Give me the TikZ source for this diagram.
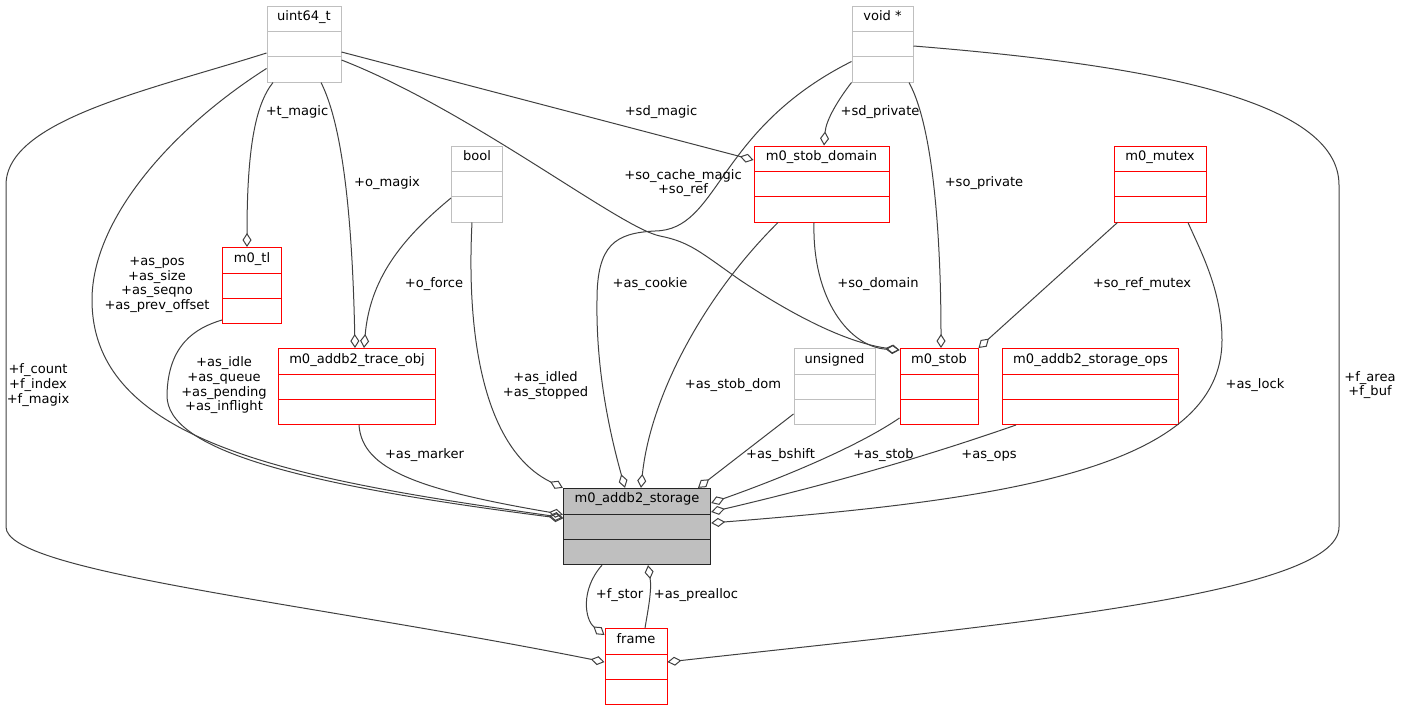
\documentclass[tikz,border=0pt]{standalone}
\usepackage{fontspec}
\setmainfont{DejaVu Sans}
\usetikzlibrary{calc,arrows.meta}
\definecolor{edgec}{HTML}{404040}
\definecolor{boxred}{HTML}{FF0000}
\definecolor{boxgray}{HTML}{BFBFBF}
\begin{document}
\begin{tikzpicture}[x=0.75pt,y=-0.75pt,
  font=\fontsize{9.8pt}{11pt}\selectfont,
  cls/.style={draw=#1, line width=0.75pt, inner sep=0pt, minimum height=57pt,
    path picture={\draw[#1, line width=0.75pt]
      ($(path picture bounding box.north west)!0.34!(path picture bounding box.south west)$) --
      ($(path picture bounding box.north east)!0.34!(path picture bounding box.south east)$)
      ($(path picture bounding box.north west)!0.67!(path picture bounding box.south west)$) --
      ($(path picture bounding box.north east)!0.67!(path picture bounding box.south east)$);}},
  redcls/.style={cls=boxred},
  graycls/.style={cls=boxgray},
  ttl/.style={anchor=base, inner sep=0pt},
  lbl/.style={align=center, inner sep=0pt},
  agg/.style={draw=edgec, line width=0.75pt, {Diamond[open,length=10.5pt,width=6.75pt]}-},
]
\path[use as bounding box] (0,0) rectangle (1403,711);

% classes
\node[graycls, minimum width=55.5pt] (uint) at (304,44) {};
\node[ttl] (uint-t) at ($(uint.north)+(0,15)$) {uint64\_t};
\node[graycls, minimum width=45.75pt] (void) at (882.5,44) {};
\node[ttl] (void-t) at ($(void.north)+(0,15)$) {void *};
\node[graycls, minimum width=38.25pt] (bool) at (477,184) {};
\node[ttl] (bool-t) at ($(bool.north)+(0,15)$) {bool};
\node[redcls, minimum width=101.25pt] (dom) at (821.5,184) {};
\node[ttl] (dom-t) at ($(dom.north)+(0,15)$) {m0\_stob\_domain};
\node[redcls, minimum width=69pt] (mutex) at (1160,184) {};
\node[ttl] (mutex-t) at ($(mutex.north)+(0,15)$) {m0\_mutex};
\node[redcls, minimum width=44.25pt] (tl) at (252,285.5) {};
\node[ttl] (tl-t) at ($(tl.north)+(0,15)$) {m0\_tl};
\node[redcls, minimum width=117.75pt] (trace) at (357,386.5) {};
\node[ttl] (trace-t) at ($(trace.north)+(0,15)$) {m0\_addb2\_trace\_obj};
\node[graycls, minimum width=60.75pt] (unsig) at (834.5,386.5) {};
\node[ttl] (unsig-t) at ($(unsig.north)+(0,15)$) {unsigned};
\node[redcls, minimum width=58.5pt] (stob) at (939,386.5) {};
\node[ttl] (stob-t) at ($(stob.north)+(0,15)$) {m0\_stob};
\node[redcls, minimum width=132pt] (ops) at (1090.5,386.5) {};
\node[ttl] (ops-t) at ($(ops.north)+(0,15)$) {m0\_addb2\_storage\_ops};
\node[cls=black!85, fill=boxgray, line width=1pt, minimum width=110.25pt] (stor) at (637,526.5) {};
\node[ttl] (stor-t) at ($(stor.north)+(0,15)$) {m0\_addb2\_storage};
\node[redcls, minimum width=46.5pt] (frame) at (636,666.5) {};
\node[ttl] (frame-t) at ($(frame.north)+(0,15)$) {frame};

% connectors (diamond at the containing struct)
\draw[agg] ($(frame.west)+(0,-4.5)$) .. controls (305,602) and (6,572) .. (6,527) -- (6,185) .. controls (6,120) and (150,90) .. ($(uint.west)+(0,9)$);
\draw[agg] ($(frame.east)+(0,-4.5)$) .. controls (1000,625) and (1339,595) .. (1339,527) -- (1339,185) .. controls (1339,100) and (1150,65) .. ($(void.east)+(0,2)$);
\draw[agg] ($(stor.west)+(0,-9)$) .. controls (300,480) and (92,445) .. (92,300) .. controls (92,220) and (170,130) .. ($(uint.south west)+(0,-14)$);
\draw[agg] ($(stor.west)+(0,-8)$) .. controls (300,485) and (166,450) .. (167,395) .. controls (168,345) and (195,328) .. ($(tl.south west)+(0,-4)$);
\draw[agg] ($(stor.west)+(0,-12)$) .. controls (420,490) and (362,470) .. ($(trace.south)+(2,0)$);
\draw[agg] (stor.north west) .. controls (485,450) and (466,340) .. ($(bool.south)+(-5,0)$);
\draw[agg] ($(stor.north)+(-12,0)$) .. controls (606,420) and (596,360) .. (597,300) .. controls (597,245) and (615,233) .. (655,231) .. controls (720,230) and (715,130) .. ($(void.south west)+(0,-21)$);
\draw[agg] ($(stor.north)+(4,0)$) .. controls (650,400) and (700,300) .. ($(dom.south)+(-43.5,0)$);
\draw[agg] ($(stor.north)+(61,0)$) -- ($(unsig.south west)+(0,-11)$);
\draw[agg] ($(stor.east)+(0,-23.5)$) .. controls (790,475) and (860,445) .. ($(stob.south west)+(0,-7)$);
\draw[agg] ($(stor.east)+(0,-14.5)$) .. controls (835,483) and (930,455) .. ($(ops.south)+(-74.5,0)$);
\draw[agg] ($(stor.east)+(0,-3.5)$) .. controls (1000,500) and (1222,470) .. (1222,340) .. controls (1222,290) and (1200,250) .. ($(mutex.south)+(28,0)$);
\draw[agg] (stob.north east) -- ($(mutex.south west)+(4,0)$);
\draw[agg] ($(stob.north west)+(0,2)$) .. controls (850,347) and (812,300) .. ($(dom.south)+(-7.5,0)$);
\draw[agg] ($(stob.north west)+(0,2)$) .. controls (850,343) and (800,320) .. (740,280) .. controls (700,252) and (690,242) .. (660,236) .. controls (620,228) and (470,110) .. ($(uint.east)+(0,16)$);
\draw[agg] ($(dom.west)+(0,-24)$) -- ($(uint.east)+(0,8)$);
\draw[agg] ($(dom.north)+(2.5,0)$) .. controls (826,120) and (838,100) .. (void.south west);
\draw[agg] ($(stob.north)+(2,0)$) .. controls (941,250) and (935,130) .. ($(void.south)+(26.5,0)$);
\draw[agg] ($(tl.north)+(-5,0)$) .. controls (247,150) and (255,105) .. ($(uint.south)+(-31,0)$);
\draw[agg] ($(trace.north)+(-2,0)$) .. controls (352,200) and (340,120) .. ($(uint.south)+(17,0)$);
\draw[agg] ($(trace.north)+(7,0)$) .. controls (370,280) and (400,240) .. ($(bool.west)+(0,14)$);
\draw[agg] ($(frame.north west)+(0,7)$) .. controls (585,620) and (580,590) .. ($(stor.south)+(-35,0)$);
\draw[agg] ($(stor.south)+(11,0)$) .. controls (652,590) and (648,610) .. ($(frame.north)+(9,0)$);

% labels
\node[lbl] (l-fcount) at (38,385) {+f\_count\\+f\_index\\+f\_magix};
\node[lbl] (l-farea) at (1370,385) {+f\_area\\+f\_buf};
\node[lbl] (l-aspos) at (157,285) {+as\_pos\\+as\_size\\+as\_seqno\\+as\_prev\_offset};
\node[lbl] (l-tmagic) at (297,112) {+t\_magic};
\node[lbl] (l-omagix) at (387,183) {+o\_magix};
\node[lbl] (l-sdmagic) at (661,112) {+sd\_magic};
\node[lbl] (l-sdpriv) at (880,112) {+sd\_private};
\node[lbl] (l-socache) at (683,183) {+so\_cache\_magic\\+so\_ref};
\node[lbl] (l-sopriv) at (984,183) {+so\_private};
\node[lbl] (l-oforce) at (434,284) {+o\_force};
\node[lbl] (l-cookie) at (650,284) {+as\_cookie};
\node[lbl] (l-sodom) at (878,284) {+so\_domain};
\node[lbl] (l-srm) at (1142,284) {+so\_ref\_mutex};
\node[lbl] (l-asidle) at (224,385.5) {+as\_idle\\+as\_queue\\+as\_pending\\+as\_inflight};
\node[lbl] (l-asidled) at (545.5,385.5) {+as\_idled\\+as\_stopped};
\node[lbl] (l-stobdom) at (733,385.5) {+as\_stob\_dom};
\node[lbl] (l-lock) at (1255,385.5) {+as\_lock};
\node[lbl] (l-marker) at (424.5,455.5) {+as\_marker};
\node[lbl] (l-bshift) at (780.5,455.5) {+as\_bshift};
\node[lbl] (l-asstob) at (883.5,455.5) {+as\_stob};
\node[lbl] (l-ops) at (989,455.5) {+as\_ops};
\node[lbl] (l-fstor) at (619.5,595.5) {+f\_stor};
\node[lbl] (l-prealloc) at (696,595.5) {+as\_prealloc};
\end{tikzpicture}
\end{document}
